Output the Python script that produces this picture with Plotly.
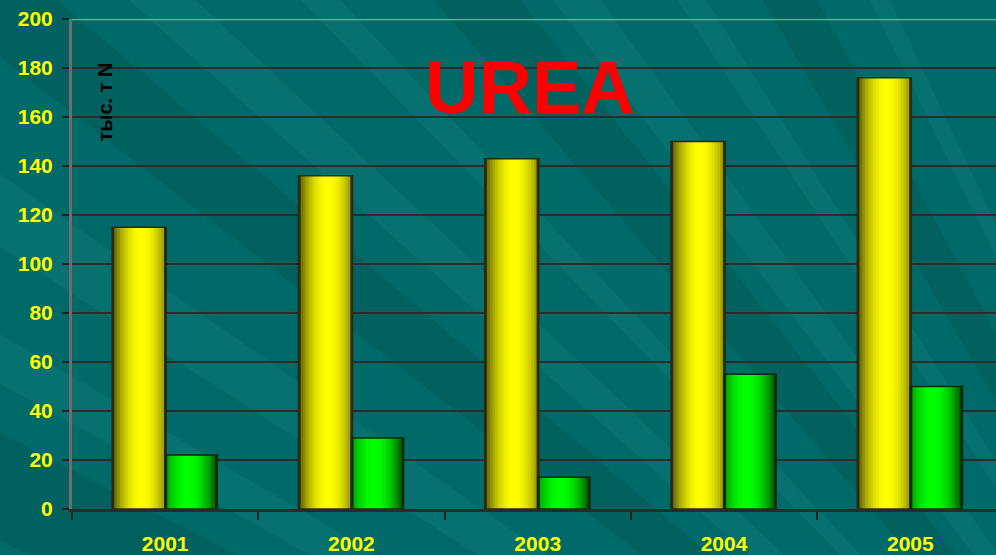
import math
import plotly.graph_objects as go

# ---- data ----
years = ["2001", "2002", "2003", "2004", "2005"]
urea_yellow = [115, 136, 143, 150, 176]
urea_green = [22, 29, 13, 55, 50]
y_ticks = [0, 20, 40, 60, 80, 100, 120, 140, 160, 180, 200]
title_text = "UREA"
y_title = "тыс. т N"

# ---- styling ----
W, H = 996, 555
ML, MR, MT, MB = 72, 0, 19, 555 - 512
BG = "#006a68"
FONT = "Liberation Sans"
N_STRIPS = 18


def shade(t, peak, lo):
    d = max(peak, 1 - peak)
    b = 1 - (1 - lo) * ((t - peak) / d) ** 2
    return max(lo, min(1.0, b))


def add_cylinder(fig, values, offset, width, rgb, peak, lo, edge):
    fig.add_trace(go.Bar(x=years, y=values, offset=offset, width=width,
                         marker=dict(color=edge, line=dict(width=0)),
                         hoverinfo="skip", showlegend=False))
    inner_off = offset + width * 0.04
    inner_w = width * 0.92
    sw = inner_w / N_STRIPS
    for i in range(N_STRIPS):
        t = (i + 0.5) / N_STRIPS
        b = shade(t, peak, lo)
        col = "rgb(%d,%d,%d)" % tuple(int(round(c * b)) for c in rgb)
        w = sw * 1.6 if i < N_STRIPS - 1 else sw
        fig.add_trace(go.Bar(x=years, y=values, offset=inner_off + i * sw,
                             width=w,
                             marker=dict(color=col, line=dict(width=0)),
                             hoverinfo="skip", showlegend=False))
    fig.add_trace(go.Bar(x=years, y=values, offset=offset, width=width,
                         marker=dict(color="rgba(0,0,0,0)",
                                     line=dict(color=edge, width=1.5)),
                         hoverinfo="skip", showlegend=False))


fig = go.Figure()
add_cylinder(fig, urea_yellow, -0.2845, 0.29, (255, 255, 0), 0.55, 0.40, "#2a2a10")
add_cylinder(fig, urea_green, 0.0, 0.28, (0, 255, 0), 0.42, 0.36, "#0a2a0a")

# ---- background rays (decoration), given in page pixels ----
PW, PH = W - ML - MR, H - MT - MB
FX, FY = 1450.0, 1190.0


def px2paper(x, y):
    return (x - ML) / PW, (H - MB - y) / PH


def wedge(a1, a2, color):
    R = 3000
    pts = [(FX, FY)]
    for a in (a1, a2):
        r = math.radians(a)
        pts.append((FX - R * math.cos(r), FY - R * math.sin(r)))
    pp = [px2paper(*p) for p in pts]
    path = "M %f %f L %f %f L %f %f Z" % (pp[0][0], pp[0][1], pp[1][0], pp[1][1], pp[2][0], pp[2][1])
    return dict(type="path", path=path, xref="paper", yref="paper",
                fillcolor=color, line=dict(width=0), layer="below")


shapes = []
light = "rgba(40,150,150,0.16)"
dark = "rgba(0,40,40,0.14)"
for a1, a2, c in [(18, 21, light), (24, 27.5, dark), (29, 30.5, light), (33, 35, light),
                  (38, 40.5, dark), (42, 43.5, light), (46, 47, light), (49.5, 52, dark),
                  (53, 54.5, light), (57, 58, light), (60, 62, dark), (64, 64.8, light)]:
    shapes.append(wedge(a1, a2, c))

for yv, col in [(80, "#5c5c5c"), (100, "#6a6a6a"), (200, "#9a9a9a")]:
    shapes.append(dict(type="line", xref="paper", yref="y", x0=0, x1=1, y0=yv, y1=yv,
                       line=dict(color=col, width=2.5), layer="between"))

fig.update_layout(
    width=W, height=H,
    margin=dict(l=ML, r=MR, t=MT, b=MB, pad=0),
    paper_bgcolor=BG, plot_bgcolor="rgba(0,0,0,0)",
    barmode="overlay", showlegend=False, hovermode=False,
    shapes=shapes,
    xaxis=dict(type="category", range=[-0.5, 4.46], autorange=False,
               showgrid=False, showline=True, linecolor="#2a2a2a", linewidth=3,
               ticks="outside", tickson="boundaries", ticklen=8, tickwidth=2,
               tickcolor="#222222", ticklabelstandoff=14,
               tickfont=dict(family=FONT, size=21, color="#ffff00", weight="bold")),
    yaxis=dict(range=[0, 200], autorange=False, tickvals=y_ticks,
               showgrid=True, gridcolor="#2b2b2b", gridwidth=2,
               zeroline=False, showline=True, linecolor="#6e6e6e", linewidth=3,
               ticks="outside", ticklen=7, tickwidth=2, tickcolor="#222222",
               ticklabelstandoff=5,
               tickfont=dict(family=FONT, size=21, color="#ffff00", weight="bold")),
    annotations=[
        dict(text=title_text, xref="paper", yref="paper",
             x=px2paper(530, 88)[0], y=px2paper(530, 88)[1],
             xanchor="center", yanchor="middle", showarrow=False,
             font=dict(family=FONT, size=74, color="#ff0000", weight="bold")),
        dict(text=y_title, xref="paper", yref="paper", textangle=-90,
             x=px2paper(105, 103)[0], y=px2paper(105, 103)[1],
             xanchor="center", yanchor="middle", showarrow=False,
             font=dict(family=FONT, size=20, color="#000000", weight="bold")),
    ],
)

fig.write_html(
    "out.html",
    config={"displayModeBar": False, "staticPlot": True},
    post_script="document.body.style.margin='0';document.body.style.overflow='hidden';"
                "document.body.style.background='%s';" % BG,
)
